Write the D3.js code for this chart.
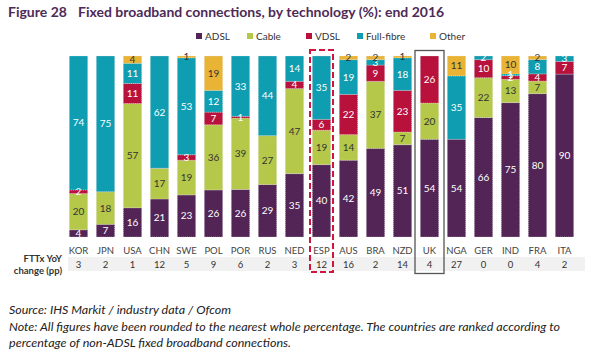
<!DOCTYPE html>
<html><head><meta charset="utf-8">
<script src="https://cdn.jsdelivr.net/npm/d3@7"></script>
<style>html,body{margin:0;padding:0;background:#fff;}svg{display:block;font-family:Lato,"Open Sans",sans-serif;}</style>
</head><body>
<svg id="c" width="600" height="358"></svg>
<script>
const countries = ["KOR","JPN","USA","CHN","SWE","POL","POR","RUS","NED","ESP","AUS","BRA","NZD","UK","NGA","GER","IND","FRA","ITA"];
const adsl   = [4, 7, 16, 21, 23, 26, 26, 29, 35, 40, 42, 49, 51, 54, 54, 66, 75, 80, 90];
const cable  = [20, 18, 57, 17, 19, 36, 39, 27, 47, 19, 14, 37, 7, 20, 0, 22, 13, 7, 0];
const vdsl   = [2, 0, 11, 0, 3, 7, 1, 0, 4, 6, 22, 9, 23, 26, 0, 10, 2, 4, 7];
const fibre  = [74, 75, 11, 62, 53, 12, 33, 44, 14, 35, 19, 3, 18, 0, 35, 2, 1, 8, 3];
const other  = [0, 0, 4, 0, 1, 19, 0, 0, 0, 0, 2, 2, 1, 0, 11, 0, 10, 2, 0];
const fttxYoY = [3, 2, 1, 12, 5, 9, 6, 2, 3, 12, 16, 2, 14, 4, 27, 0, 0, 4, 2];
const seriesNames = ["ADSL","Cable","VDSL","Full-fibre","Other"];
const seriesColors = ["#532556","#b5c84a","#b8123c","#0e9db1","#e9b435"];
const labelColors = ["#fff","#333","#fff","#fff","#333"];
const highlightDashed = "ESP";
const highlightBox = "UK";

const svg = d3.select("#c");
const seriesArrays = [adsl, cable, vdsl, fibre, other];
const rows = countries.map((c,i)=>{const o={country:c}; seriesNames.forEach((s,j)=>o[s]=seriesArrays[j][i]); return o;});

const x = d3.scaleBand().domain(countries).range([65,578]).paddingInner(0.32).paddingOuter(0.16);
const y = d3.scaleLinear().domain([0,1]).range([237,56]);
const stack = d3.stack().keys(seriesNames).offset(d3.stackOffsetExpand);
const stacked = stack(rows);

// title
const title = svg.append("text").attr("x",8).attr("y",17).attr("font-size",14).attr("font-weight","bold").attr("fill","#4e2a57");
title.append("tspan").text("Figure 28");
title.append("tspan").attr("x",78).text("Fixed broadband connections, by technology (%): end 2016");

// legend
const legX = [196,247,306,357,430];
seriesNames.forEach((s,i)=>{
  svg.append("rect").attr("x",legX[i]).attr("y",33).attr("width",6).attr("height",6).attr("fill",seriesColors[i]);
  svg.append("text").attr("x",legX[i]+9).attr("y",39.5).attr("font-size",10).attr("fill","#333").text(s);
});

// bars
const g = svg.append("g");
stacked.forEach((layer,li)=>{
  g.selectAll(null).data(layer.filter(d=>d.data[layer.key]>0)).enter().append("rect")
    .attr("x",d=>x(d.data.country)).attr("width",x.bandwidth())
    .attr("y",d=>y(d[1])).attr("height",d=>y(d[0])-y(d[1]))
    .attr("fill",seriesColors[li])
    .attr("stroke","#e6e6e6").attr("stroke-width",0.5).attr("stroke-dasharray","1,1");
});
stacked.forEach((layer,li)=>{
  g.selectAll(null).data(layer.filter(d=>d.data[layer.key]>0)).enter().append("text")
    .attr("x",d=>x(d.data.country)+x.bandwidth()/2)
    .attr("y",d=>(y(d[0])+y(d[1]))/2+3.5)
    .attr("text-anchor","middle").attr("font-size",10)
    .attr("fill",labelColors[li])
    .text(d=>d.data[layer.key]);
});

// category labels
svg.selectAll(null).data(countries).enter().append("text")
  .attr("x",d=>x(d)+x.bandwidth()/2).attr("y",253.5).attr("text-anchor","middle")
  .attr("font-size",9.5).attr("fill","#444").text(d=>d);

// FTTx row
svg.append("rect").attr("x",68).attr("y",257).attr("width",517).attr("height",14).attr("fill","#f1f1f1");
svg.selectAll(null).data(countries).enter().append("text")
  .attr("x",d=>x(d)+x.bandwidth()/2).attr("y",267.5).attr("text-anchor","middle")
  .attr("font-size",9.5).attr("fill","#333").text((d,i)=>fttxYoY[i]);
svg.append("text").attr("x",62).attr("y",262).attr("text-anchor","end").attr("font-size",9.5).attr("font-weight","bold").attr("fill","#333").text("FTTx YoY");
svg.append("text").attr("x",62).attr("y",274).attr("text-anchor","end").attr("font-size",9.5).attr("font-weight","bold").attr("fill","#333").text("change (pp)");

// highlight boxes
const ex = x(highlightDashed)+x.bandwidth()/2;
svg.append("rect").attr("x",ex-11.5).attr("y",50).attr("width",23).attr("height",222)
  .attr("fill","none").attr("stroke","#d3143e").attr("stroke-width",2).attr("stroke-dasharray","6,3");
const ux = x(highlightBox)+x.bandwidth()/2;
svg.append("rect").attr("x",ux-14.5).attr("y",50.5).attr("width",29).attr("height",223)
  .attr("fill","none").attr("stroke","#555").attr("stroke-width",1.3);

// footnotes
const notes = ["Source: IHS Markit / industry data / Ofcom",
  "Note: All figures have been rounded to the nearest whole percentage. The countries are ranked according to",
  "percentage of non-ADSL fixed broadband connections."];
const noteWidths = [222, 551, 282];
notes.forEach((t,i)=>svg.append("text").attr("x",9).attr("y",314+i*16.5).attr("font-size",11.5)
  .attr("textLength",noteWidths[i]).attr("lengthAdjust","spacingAndGlyphs")
  .attr("font-style","italic").attr("fill","#222").text(t));
</script>
</body></html>
